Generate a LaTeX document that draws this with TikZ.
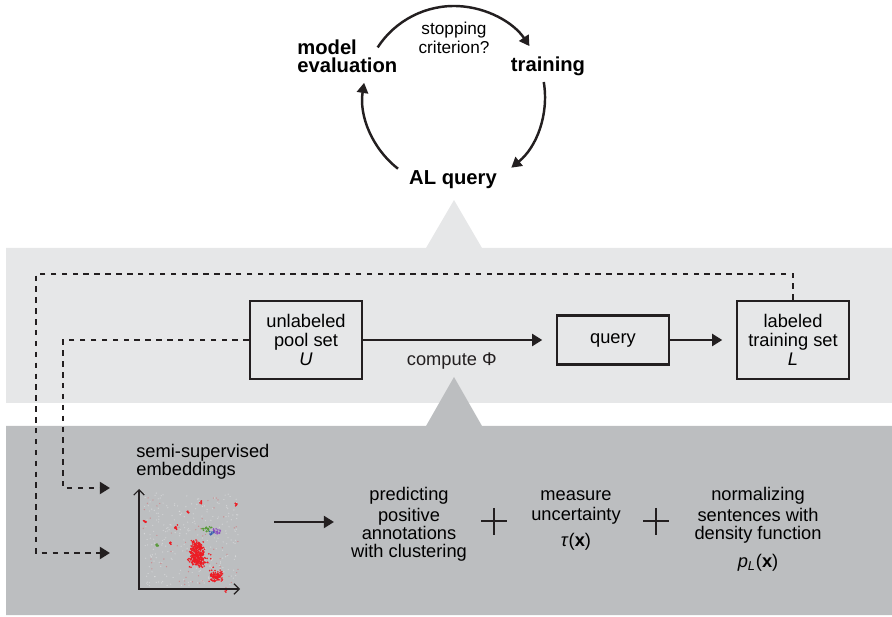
\documentclass[tikz,border=0pt]{standalone}
\usepackage{fontspec}
\setmainfont{Liberation Sans}
\usetikzlibrary{arrows.meta, positioning}

\definecolor{bandlight}{HTML}{E6E7E8}
\definecolor{banddark}{HTML}{BCBEC0}
\definecolor{ink}{HTML}{231F20}
\definecolor{dotred}{HTML}{ED1C24}
\definecolor{dotgreen}{HTML}{5A9A3C}
\definecolor{dotpurple}{HTML}{8A4FBF}
\definecolor{dotblue}{HTML}{3A5FB0}

\tikzset{
  box/.style={draw=ink, line width=1.4pt, align=center, inner sep=0pt},
  txt/.style={align=center, inner sep=0pt, anchor=north, font=\fontsize{10.4}{10.4}\selectfont},
  bold/.style={inner sep=0pt, font=\fontsize{11.5}{10}\selectfont\bfseries},
  flow/.style={ink, line width=1.4pt, shorten >=0.27cm, -{Triangle[length=5.8pt,width=6.8pt]}},
  feed/.style={ink, line width=1.4pt, dash pattern=on 3.1pt off 3.1pt, -{Triangle[length=5.8pt,width=6.8pt]}},
  cyc/.style={ink, line width=1.4pt, -{Triangle[length=5.8pt,width=6.4pt]}},
}

\begin{document}
\begin{tikzpicture}[x=0.02cm, y=0.02cm, font=\fontsize{10.4}{10.8}\selectfont]
    \useasboundingbox (0,0) rectangle (892,-617);
    \pgfmathsetseed{42}

    % bands
    \fill[bandlight] (6,-248) -- (426,-248) -- (454,-200) -- (482,-248) -- (892,-248) -- (892,-403) -- (6,-403) -- cycle;
    \fill[banddark] (6,-426) -- (426,-426) -- (454,-377) -- (482,-426) -- (892,-426) -- (892,-615) -- (6,-615) -- cycle;

    % loop on top
    \coordinate (CC) at (454,-97);
    \node[bold, align=left, anchor=north west] (ME) at (297,-40) {model\\evaluation};
    \node[bold, anchor=base] (TR) at (548,-72) {training};
    \node[bold, anchor=base] (AQ) at (453,-185) {AL query};
    \node[align=center, inner sep=0pt, anchor=north, font=\fontsize{9.8}{9.1}\selectfont] (SC) at (454,-22) {\strut stopping\\criterion?};

    \draw[cyc] ([shift={(147:91)}]CC) arc[start angle=147, end angle=34, radius=91];
    \draw[cyc] ([shift={(9.5:91)}]CC) arc[start angle=9.5, end angle=-51, radius=91];
    \draw[cyc] ([shift={(232:91)}]CC) arc[start angle=232, end angle=171, radius=91];

    % middle band
    \node[box, minimum width=2.24cm, minimum height=1.56cm] (UP) at (306,-340) {unlabeled\\pool set\\\textit{U}};
    \node[box, minimum width=2.24cm, minimum height=0.98cm] (QU) at (613,-340) {query};
    \node[box, minimum width=2.24cm, minimum height=1.56cm] (LT) at (793,-340) {labeled\\training set\\\textit{L}};

    \draw[flow] (UP) -- node[below=3pt, pos=0.46] (PHI) {compute Φ} (QU);
    \draw[flow] (QU) -- (LT);

    % feedback into the embeddings
    \coordinate (EA) at (110,-488);
    \coordinate (EB) at (110,-553);
    \draw[feed] (LT.north) |- (36,-274) |- (EB);
    \draw[feed] (UP.west) -| (63,-488) -- (EA);

    % embeddings plot
    \node[anchor=south west, inner sep=0pt, align=left, font=\fontsize{10.4}{9.6}\selectfont] (SS) at (136,-480) {semi-supervised\\embeddings};
    \foreach \k in {1,...,260}
        \fill[white, opacity=0.3] (143+95*rnd, -493-93*rnd) circle[radius=0.7];
    \foreach \k in {1,...,60}
        \fill[dotred, opacity=0.3] (143+95*rnd, -493-93*rnd) circle[radius=0.7];
    \foreach \cx/\cy/\sx/\sy/\n/\c in {197/553/5/9/260/dotred, 200/560/9/6/60/dotred, 216/576/5/4/90/dotred,
            145/521/1.2/1/8/dotred, 201/502/1/1.5/6/dotred, 236/504/1.2/1.5/6/dotred, 176/527/1.5/2/8/dotred,
            170/544/1.5/1.5/6/dotred, 188/512/1/1.5/5/dotred, 226/590/1/1.5/5/dotred,
            207/529/3.5/2/22/dotgreen, 217/531/3/2/22/dotpurple, 211/533/2/1.5/10/dotblue, 157/545/1.8/1/8/dotgreen}
        \foreach \k in {1,...,\n}
            \fill[\c] (\cx+\sx*rand+0.6*\sx*rand, -\cy-\sy*rand-0.6*\sy*rand) circle[radius=0.9];
    \coordinate (YT) at (139,-489);
    \coordinate (XR) at (240,-589);
    \draw[ink, line width=0.7pt, {Straight Barb[length=3pt]}-{Straight Barb[length=3pt]}] (YT) |- (XR);

    % query strategy
    \coordinate (A1) at (274,-522);
    \coordinate (A2) at (334,-522);
    \draw[ink, line width=1.4pt, -{Triangle[length=5.8pt,width=6.8pt]}] (A1) -- (A2);

    \node[txt] (PR) at (409,-487) {\strut predicting\\positive\\annotations\\with clustering};
    \node[txt] (MU) at (576,-487) {\strut measure\\uncertainty\\[4.3pt]\textit{τ}(\textbf{x})};
    \node[txt] (NM) at (758,-487) {\strut normalizing\\sentences with\\density function\\[5.5pt]\textit{p}\textsubscript{\textit{L}}(\textbf{x})};
    \foreach \px in {494,656}
        \draw[ink, line width=1.3pt] (\px,-508) -- (\px,-535) (\px-13,-521) -- (\px+13,-521);
\end{tikzpicture}
\end{document}
